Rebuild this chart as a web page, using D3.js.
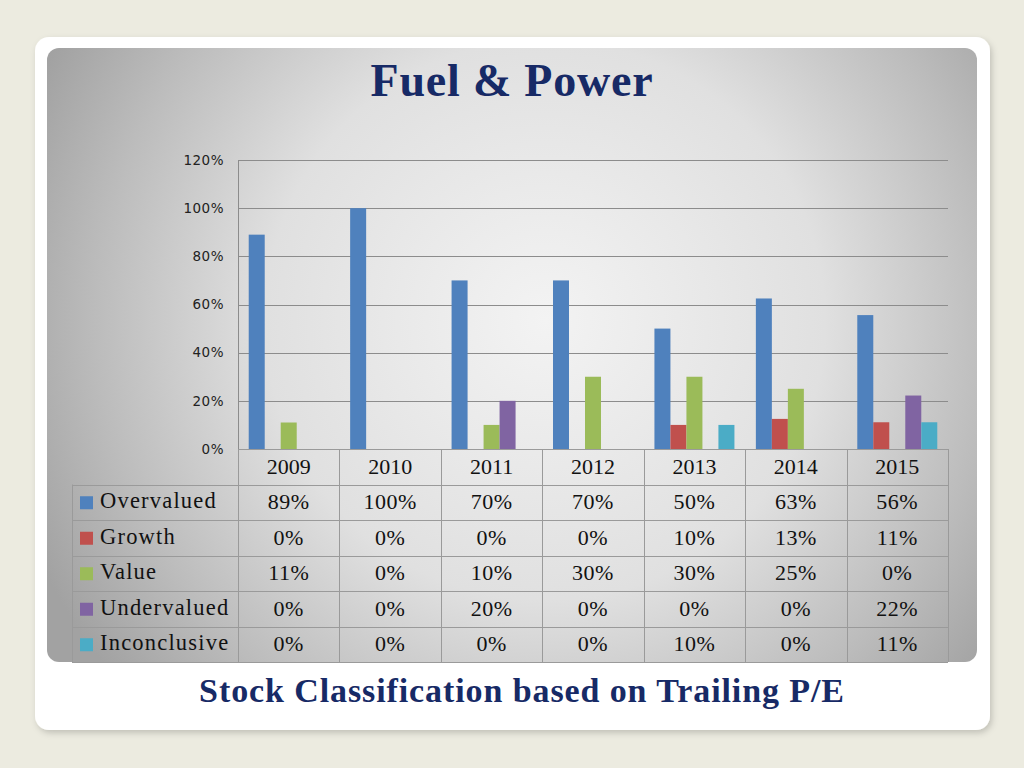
<!DOCTYPE html>
<html>
<head>
<meta charset="utf-8">
<script src="https://cdn.jsdelivr.net/npm/d3@7"></script>
<style>
  body { margin: 0; background: #ecebe0; }
  svg { display: block; }
</style>
</head>
<body>
<script>
// chart data
const years = ["2009", "2010", "2011", "2012", "2013", "2014", "2015"];
const seriesNames = ["Overvalued", "Growth", "Value", "Undervalued", "Inconclusive"];
const seriesColors = ["#4f81bd", "#c0504d", "#9bbb59", "#8064a2", "#4bacc6"];
const overvalued = [0.89, 1.00, 0.70, 0.70, 0.50, 0.625, 0.556];
const growth = [0, 0, 0, 0, 0.10, 0.125, 0.111];
const value = [0.11, 0, 0.10, 0.30, 0.30, 0.25, 0];
const undervalued = [0, 0, 0.20, 0, 0, 0, 0.222];
const inconclusive = [0, 0, 0, 0, 0.10, 0, 0.111];
const tableText = [
  ["89%", "100%", "70%", "70%", "50%", "63%", "56%"],
  ["0%", "0%", "0%", "0%", "10%", "13%", "11%"],
  ["11%", "0%", "10%", "30%", "30%", "25%", "0%"],
  ["0%", "0%", "20%", "0%", "0%", "0%", "22%"],
  ["0%", "0%", "0%", "0%", "10%", "0%", "11%"]
];
const yTicks = [0, 0.2, 0.4, 0.6, 0.8, 1.0, 1.2];

const allSeries = [overvalued, growth, value, undervalued, inconclusive];

var width = 1024,
    height = 768;

var serif = "'Liberation Serif', 'DejaVu Serif', serif";
var navy = "#172a66";

var svg = d3.select("body").append("svg")
    .attr("width", width)
    .attr("height", height);

var defs = svg.append("defs");

var grad = defs.append("radialGradient")
    .attr("id", "panelGrad")
    .attr("gradientUnits", "userSpaceOnUse")
    .attr("cx", 545).attr("cy", 320).attr("r", 560);
grad.append("stop").attr("offset", "0").attr("stop-color", "#f3f3f3");
grad.append("stop").attr("offset", "0.5").attr("stop-color", "#e0e0e0");
grad.append("stop").attr("offset", "0.8").attr("stop-color", "#bcbcbc");
grad.append("stop").attr("offset", "1").attr("stop-color", "#a2a2a2");

var shadow = defs.append("filter").attr("id", "shadow")
    .attr("x", "-5%").attr("y", "-5%").attr("width", "110%").attr("height", "110%");
shadow.append("feDropShadow")
    .attr("dx", 2).attr("dy", 3).attr("stdDeviation", 3)
    .attr("flood-color", "#000").attr("flood-opacity", 0.18);

// white card + gray panel
svg.append("rect")
    .attr("x", 35).attr("y", 37).attr("width", 955).attr("height", 693)
    .attr("rx", 14)
    .attr("fill", "#fff")
    .attr("filter", "url(#shadow)");

svg.append("rect")
    .attr("x", 47).attr("y", 48).attr("width", 930).attr("height", 614)
    .attr("rx", 12)
    .attr("fill", "url(#panelGrad)");

svg.append("text")
    .attr("x", 512).attr("y", 96)
    .attr("text-anchor", "middle")
    .style("font-family", serif)
    .style("font-weight", "bold")
    .style("font-size", "46px")
    .style("letter-spacing", "0.8px")
    .style("fill", navy)
    .text("Fuel & Power");

svg.append("text")
    .attr("x", 522).attr("y", 702)
    .attr("text-anchor", "middle")
    .style("font-family", serif)
    .style("font-weight", "bold")
    .style("font-size", "34px")
    .style("letter-spacing", "0.9px")
    .style("fill", navy)
    .text("Stock Classification based on Trailing P/E");

// scales
var x = d3.scaleBand()
    .domain(years)
    .range([238, 948]);

var xs = d3.scaleBand()
    .domain(seriesNames)
    .range([0, x.bandwidth()])
    .paddingInner(0)
    .paddingOuter(0.67);

var y = d3.scaleLinear()
    .domain([0, 1.2])
    .range([449, 160]);

// gridlines
svg.append("g").selectAll("line")
    .data(yTicks)
  .enter().append("line")
    .attr("x1", 238).attr("x2", 948)
    .attr("y1", function(d) { return Math.round(y(d)) + 0.5; })
    .attr("y2", function(d) { return Math.round(y(d)) + 0.5; })
    .attr("stroke", "#8c8c8c")
    .attr("stroke-width", 1);

svg.append("line")
    .attr("x1", 238.5).attr("x2", 238.5)
    .attr("y1", 160).attr("y2", 449)
    .attr("stroke", "#8c8c8c");

var yAxis = svg.append("g")
    .attr("transform", "translate(238,0)")
    .call(d3.axisLeft(y).tickValues(yTicks).tickFormat(d3.format(".0%")).tickSize(0).tickPadding(14));
yAxis.select(".domain").remove();
yAxis.selectAll("text")
    .style("font-family", "'DejaVu Sans', Verdana, sans-serif")
    .style("font-size", "13.5px")
    .style("letter-spacing", "0.5px")
    .style("fill", "#222");

// bars
var groups = svg.append("g").selectAll("g")
    .data(years)
  .enter().append("g")
    .attr("transform", function(d) { return "translate(" + x(d) + ",0)"; });

groups.selectAll("rect")
    .data(function(d, i) {
      return seriesNames.map(function(s, j) { return { name: s, value: allSeries[j][i], color: seriesColors[j] }; });
    })
  .enter().append("rect")
    .attr("x", function(d) { return xs(d.name); })
    .attr("width", xs.bandwidth())
    .attr("y", function(d) { return y(d.value); })
    .attr("height", function(d) { return y(0) - y(d.value); })
    .attr("fill", function(d) { return d.color; });

// data table
var rowH = 35.5,
    tableTop = 449,
    tableLeft = 72,
    tableRight = 948;
var lineColor = "#9a9a9a";
var table = svg.append("g");

// horizontal lines
for (var r = 0; r <= 6; r++) {
  var yy = Math.round(tableTop + r * rowH) + 0.5;
  table.append("line")
      .attr("x1", r < 1 ? 238 : tableLeft).attr("x2", tableRight)
      .attr("y1", yy).attr("y2", yy)
      .attr("stroke", lineColor);
}
// vertical lines
table.append("line")
    .attr("x1", tableLeft + 0.5).attr("x2", tableLeft + 0.5)
    .attr("y1", tableTop + rowH).attr("y2", tableTop + 6 * rowH)
    .attr("stroke", lineColor);
years.concat(["end"]).forEach(function(yr, i) {
  var xx = i < years.length ? x(yr) : tableRight;
  table.append("line")
      .attr("x1", Math.round(xx) + 0.5).attr("x2", Math.round(xx) + 0.5)
      .attr("y1", tableTop).attr("y2", tableTop + 6 * rowH)
      .attr("stroke", lineColor);
});

var cellFamily = serif,
    cellSize = "22px",
    cellFill = "#111";

table.selectAll(".year")
    .data(years)
  .enter().append("text")
    .attr("class", "year")
    .attr("x", function(d) { return x(d) + x.bandwidth() / 2; })
    .attr("y", tableTop + rowH / 2 + 7)
    .attr("text-anchor", "middle")
    .style("font-family", cellFamily)
    .style("font-size", cellSize)
    .style("fill", cellFill)
    .text(function(d) { return d; });

var rows = table.selectAll(".row")
    .data(seriesNames)
  .enter().append("g")
    .attr("class", "row")
    .attr("transform", function(d, i) { return "translate(0," + (tableTop + (i + 1) * rowH) + ")"; });

rows.append("rect")
    .attr("x", 80).attr("y", rowH / 2 - 6)
    .attr("width", 13).attr("height", 13)
    .attr("fill", function(d, i) { return seriesColors[i]; });

rows.append("text")
    .attr("x", 100).attr("y", rowH / 2 + 6)
    .style("font-family", cellFamily)
    .style("font-size", "22.5px")
    .style("letter-spacing", "1.2px")
    .style("fill", cellFill)
    .text(function(d) { return d; });

rows.selectAll(".cell")
    .data(function(d, i) { return tableText[i]; })
  .enter().append("text")
    .attr("class", "cell")
    .attr("x", function(d, j) { return x(years[j]) + x.bandwidth() / 2; })
    .attr("y", rowH / 2 + 7)
    .attr("text-anchor", "middle")
    .style("font-family", cellFamily)
    .style("font-size", cellSize)
    .style("letter-spacing", "0.5px")
    .style("fill", cellFill)
    .text(function(d) { return d; });
</script>
</body>
</html>
